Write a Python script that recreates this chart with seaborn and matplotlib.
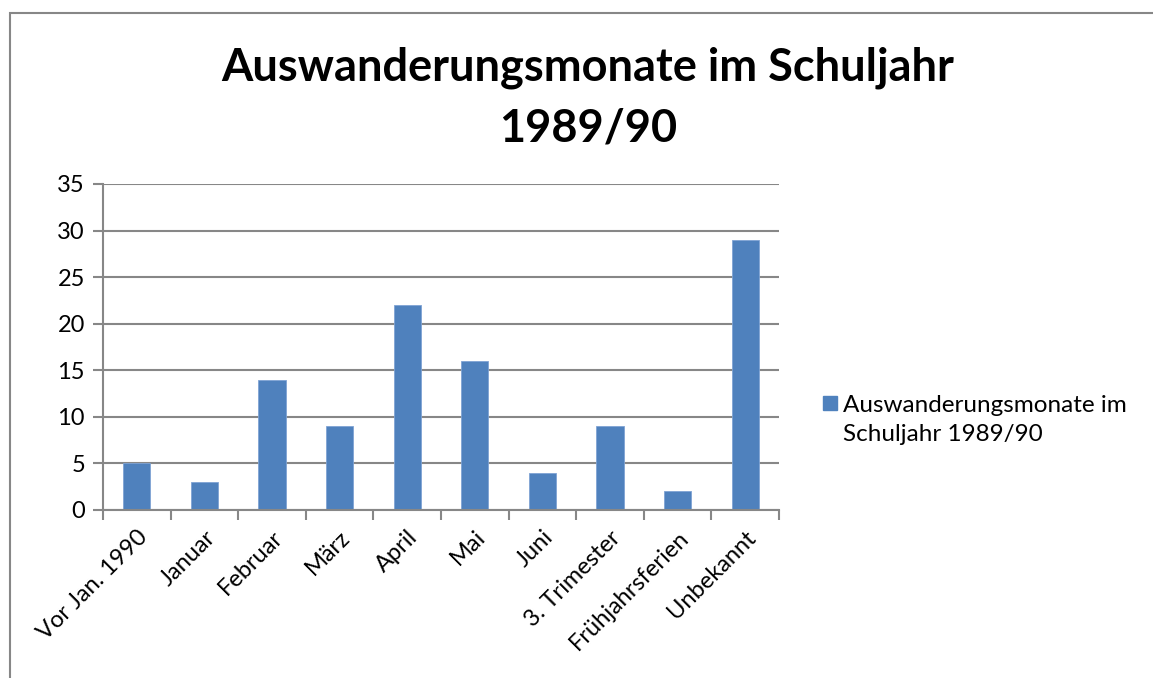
import numpy as np
import pandas as pd
import matplotlib
matplotlib.use("Agg")
import matplotlib.pyplot as plt
import seaborn as sns
from matplotlib.patches import Rectangle

# ---------------------------------------------------------------- DATA
categories = ["Vor Jan. 1990", "Januar", "Februar", "März", "April", "Mai",
              "Juni", "3. Trimester", "Frühjahrsferien", "Unbekannt"]
counts = [5, 3, 14, 9, 22, 16, 4, 9, 2, 29]
yticks = [0, 5, 10, 15, 20, 25, 30, 35]
series = "Auswanderungsmonate im Schuljahr 1989/90"

df = pd.DataFrame({"Monat": categories, "Anzahl": counts})

sns.set_style("white")
plt.rcParams["font.family"] = ["Lato", "DejaVu Sans"]
plt.rcParams["text.color"] = "black"
plt.rcParams["xtick.color"] = "black"
plt.rcParams["ytick.color"] = "black"
BLUE = "#4F81BD"
GREY = "#878787"
W, H = 1153, 678

fig = plt.figure(figsize=(W / 100, H / 100), dpi=100)
# chart frame (Excel-style border)
fig.patches.append(Rectangle((10 / W, -0.1), 1.2, 1 - 13 / H + 0.1,
                             transform=fig.transFigure, fill=False,
                             edgecolor=GREY, lw=1.5))
ax = fig.add_axes([103 / W, 1 - 510 / H, 676 / W, 326 / H])

sns.barplot(data=df, x="Monat", y="Anzahl", color=BLUE, width=0.4,
            edgecolor="#7FA3D4", linewidth=0.6, saturation=1, ax=ax)

ax.set_xlim(-0.5, len(categories) - 0.5)
ax.set_ylim(0, 35)
ax.set_yticks(yticks)
ax.yaxis.grid(True, color=GREY, lw=1.5)
ax.set_axisbelow(True)
for s in ["top", "right"]:
    ax.spines[s].set_visible(False)
for s in ["left", "bottom"]:
    ax.spines[s].set_color(GREY)
    ax.spines[s].set_linewidth(1.5)

ax.set_xlabel(""); ax.set_ylabel("")
ax.tick_params(axis="y", length=7, width=1.5, color=GREY, labelcolor="black",
               labelsize=17, pad=6, left=True)
ax.tick_params(axis="x", which="major", length=0, labelsize=17, pad=12,
               labelcolor="black")
ax.set_xticks(np.arange(-0.5, len(categories), 1.0), minor=True)
ax.tick_params(axis="x", which="minor", length=7, width=1.5, color=GREY, bottom=True)
plt.setp(ax.get_xticklabels(), rotation=45, ha="right", rotation_mode="anchor")

fig.text(588 / W, 1 - 98 / H,
         "Auswanderungsmonate im Schuljahr\n1989/90", ha="center", va="center",
         fontsize=32.5, fontweight="bold", linespacing=1.55)

# legend: square beside first line, label wrapped over two lines
fig.patches.append(Rectangle((823 / W, 1 - 410 / H), 14 / W, 14 / H,
                             transform=fig.transFigure, color=BLUE))
fig.text(843 / W, 1 - 420 / H, "Auswanderungsmonate im\nSchuljahr 1989/90",
         ha="left", va="center", fontsize=17.5, linespacing=1.45)

fig.savefig("out.png", dpi=100)
